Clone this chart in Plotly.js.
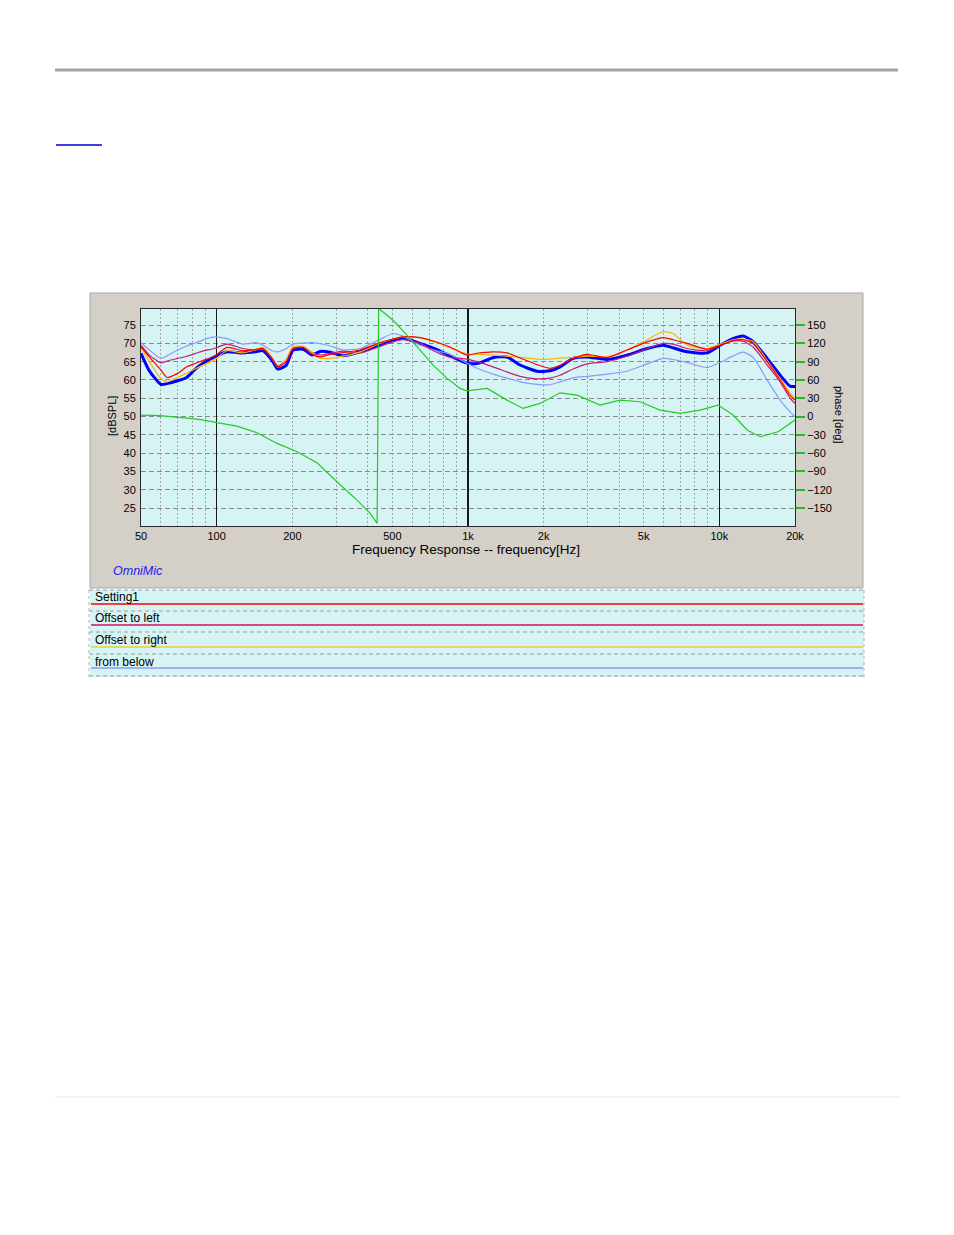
<!DOCTYPE html>
<html>
<head>
<meta charset="utf-8">
<script src="https://cdn.plot.ly/plotly-3.0.1.min.js"></script>
<style>
html,body{margin:0;padding:0;background:#fff;}
#chart{width:954px;height:1235px;}
</style>
</head>
<body>
<div id="chart"></div>
<script>
// ---------- data ----------
const freq = [50,54,60,63.5,70,76,82,88,98,110,127,143,153,166,175,189,201,221,240,258,283,318,372,447,503,551,645,753,848,991,1087,1258,1430,1611,1883,2121,2325,2619,2978,3576,4296,5160,5974,6545,7441,8938,10070,11345,12430,13624,15487,17451,19124,20000];

const measurement = [67.3,62.5,58.8,59.0,59.8,60.7,62.9,64.5,66.3,67.7,67.4,67.7,68.0,65.4,63.0,64.0,68.1,68.4,66.8,67.8,67.6,66.6,67.7,69.7,70.9,71.5,70.0,68.3,66.6,64.6,64.5,66.1,66.3,64.1,62.4,62.5,63.6,65.9,66.3,65.6,66.8,68.6,69.5,68.8,67.7,67.4,69.5,71.3,72.0,70.5,65.9,61.3,58.3,58.2];

const setting1 = [69.1,66.3,62.7,60.7,61.8,63.6,64.5,65.3,66.5,68.9,68.0,68.3,68.6,66.0,63.6,65.0,68.6,68.9,67.0,66.3,67.0,67.5,68.2,70.2,71.2,71.8,71.6,70.3,69.0,66.8,67.3,67.7,67.4,66.0,64.2,63.2,64.0,65.9,67.0,66.1,68.2,70.4,71.6,71.0,70.0,68.4,69.5,70.8,71.0,70.0,65.0,60.0,55.8,54.5];

const offsetLeft = [69.5,66.8,64.7,65.2,65.9,66.5,67.2,67.9,68.6,69.8,68.6,68.2,68.4,66.0,63.8,65.5,68.6,69.0,67.5,66.8,67.3,67.9,67.4,69.2,70.4,71.0,70.0,67.5,66.2,65.7,65.0,63.6,62.2,61.0,60.3,60.5,61.3,63.0,64.4,65.0,66.5,68.6,70.0,69.8,68.6,68.0,69.5,70.6,70.6,69.0,64.1,59.5,55.0,53.6];

const offsetRight = [68.9,65.0,60.4,59.5,60.7,61.9,63.0,64.0,65.5,68.0,67.4,68.3,68.9,66.0,63.6,65.5,69.1,69.1,67.5,65.9,65.9,66.5,67.7,70.0,71.2,71.8,71.5,70.3,68.8,67.1,67.0,66.8,66.5,66.2,65.7,65.7,66.0,66.2,66.5,66.4,68.2,71.0,73.2,72.7,69.5,68.6,69.8,71.0,71.2,70.5,65.4,60.4,56.5,55.0];

const fromBelow = [70.2,68.2,65.9,66.6,68.2,69.3,70.1,70.9,71.8,71.3,69.8,70.2,69.5,68.0,67.7,68.6,69.8,70.1,70.2,69.9,69.3,68.2,68.6,71.1,72.7,72.0,69.5,68.0,67.0,64.6,63.2,61.6,60.5,59.5,58.8,58.7,59.5,60.6,61.0,61.6,62.4,64.4,65.9,65.6,64.8,63.4,64.8,66.6,67.6,66.2,60.0,54.5,51.3,50.0];

const phaseFreq = [50,59.5,78.3,89,100.3,120.5,144.7,173.9,208.8,250.8,301,362,408,435,441,447,503,572,645,726,826,930,991,1191,1430,1656,1935,2325,2717,3354,4028,4838,5810,6979,8384,9890,11345,12896,14525,17146,20000];
const phaseDeg = [2.5,1.6,-3,-5.7,-10,-15.6,-26.5,-44,-57.7,-75.7,-106.8,-136.9,-158.7,-175,178,175.7,158,133.6,109,84.4,62.6,46.2,42.3,46.2,27,13.4,21.6,39,35.2,18.8,27,24.3,10.7,5.2,10.7,18.8,2.5,-22,-33,-24.9,-5.7];

const xTickVals = [50,100,200,500,1000,2000,5000,10000,20000];
const xTickText = ['50','100','200','500','1k','2k','5k','10k','20k'];
const xGridVals = [50,60,70,80,90,100,200,300,400,500,600,700,800,900,1000,2000,3000,4000,5000,6000,7000,8000,9000,10000,20000];
const decadeVals = [100,1000,10000];
const dbTicks = [25,30,35,40,45,50,55,60,65,70,75];
const phaseTicks = [-150,-120,-90,-60,-30,0,30,60,90,120,150];
const legendNames = ['Setting1','Offset to left','Offset to right','from below'];

// ---------- geometry helpers (page pixels -> paper) ----------
const W = 954, H = 1235, L = 141, R = 795, T = 309, B = 526;
const px = x => (x - L) / (R - L);
const py = y => (B - y) / (B - T);
const dbRange = [20.1, 79.4];
const phRange = [(dbRange[0] - 50) * 6, (dbRange[1] - 50) * 6];

const cRed = '#ff0000', cMag = '#c0207a', cOrg = '#ffb400', cLB = '#8a9aff', cBlue = '#0000ff', cGreen = '#22cc22';
const bgCyan = '#d6f4f4';

const baseLine = {shape: 'spline', smoothing: 0.6};
const traces = [
  {x: freq, y: measurement, name: 'Measurement', type: 'scatter', mode: 'lines', line: Object.assign({color: cBlue, width: 3}, baseLine), showlegend: false},
  {x: freq, y: fromBelow, name: legendNames[3], type: 'scatter', mode: 'lines', line: Object.assign({color: cLB, width: 1.2}, baseLine), showlegend: false},
  {x: freq, y: offsetLeft, name: legendNames[1], type: 'scatter', mode: 'lines', line: Object.assign({color: cMag, width: 1.2}, baseLine), showlegend: false},
  {x: freq, y: offsetRight, name: legendNames[2], type: 'scatter', mode: 'lines', line: Object.assign({color: cOrg, width: 1.2}, baseLine), showlegend: false},
  {x: freq, y: setting1, name: legendNames[0], type: 'scatter', mode: 'lines', line: Object.assign({color: cRed, width: 1.2}, baseLine), showlegend: false},
  {x: phaseFreq, y: phaseDeg, name: 'phase', type: 'scatter', mode: 'lines', yaxis: 'y2', line: {color: cGreen, width: 1.2}, showlegend: false},
  // invisible trace to activate decade-line axis
  {x: [50, 20000], y: [null, null], xaxis: 'x2', yaxis: 'y', type: 'scatter', mode: 'lines', showlegend: false, hoverinfo: 'skip'}
];

const shapes = [];
function hline(x0, x1, y, color, width, dash) {
  shapes.push({type: 'line', xref: 'paper', yref: 'paper', x0: px(x0), x1: px(x1), y0: py(y), y1: py(y), layer: 'below', line: {color: color, width: width, dash: dash || 'solid'}});
}
function vline(x, y0, y1, color, width, dash) {
  shapes.push({type: 'line', xref: 'paper', yref: 'paper', x0: px(x), x1: px(x), y0: py(y0), y1: py(y1), layer: 'below', line: {color: color, width: width, dash: dash || 'solid'}});
}
function rect(x0, y0, x1, y1, fill, lineColor) {
  shapes.push({type: 'rect', xref: 'paper', yref: 'paper', x0: px(x0), x1: px(x1), y0: py(y1), y1: py(y0), layer: 'below', fillcolor: fill, line: {color: lineColor || fill, width: lineColor ? 1 : 0}});
}
// page decorations
hline(55, 898, 70, '#a3a3a3', 3);
hline(56, 102, 145, '#0000cc', 1.5);
hline(55, 900, 1097, '#e6e6e6', 1);
// instrument panel
rect(90, 293, 863, 588, '#d4d0c8', '#a8a8a8');
rect(L, T, R, B, bgCyan);
// legend block
rect(90, 590, 864, 677, bgCyan);
const legendLineY = [604, 625, 647, 668];
const legendColors = [cRed, '#d0106a', '#f5c830', cLB];
const sepY = [611, 632, 654, 676];
for (let i = 0; i < 4; i++) {
  hline(91, 863, legendLineY[i], legendColors[i], 1.5);
  hline(89, 864, sepY[i], '#9a9a9a', 1, '4px,3px');
}
hline(89, 864, 590, '#9a9a9a', 1, '4px,3px');
vline(89, 590, 677, '#b0b0b0', 1, '3px,3px');
vline(864, 590, 677, '#b0b0b0', 1, '3px,3px');

const fontA = (size, color) => ({family: 'Arial, Liberation Sans, sans-serif', size: size, color: color || '#000'});
const annotations = [
  {text: '[dBSPL]', xref: 'paper', yref: 'paper', x: px(112), y: py(416), xanchor: 'center', yanchor: 'middle', textangle: -90, showarrow: false, font: fontA(11)},
  {text: 'phase [deg]', xref: 'paper', yref: 'paper', x: px(839), y: py(415), xanchor: 'center', yanchor: 'middle', textangle: 90, showarrow: false, font: fontA(11)},
  {text: 'Frequency Response -- frequency[Hz]', xref: 'paper', yref: 'paper', x: px(466), y: py(549), xanchor: 'center', yanchor: 'middle', showarrow: false, font: fontA(13.5)},
  {text: '<i>OmniMic</i>', xref: 'paper', yref: 'paper', x: px(111), y: py(571), xanchor: 'left', yanchor: 'middle', showarrow: false, font: fontA(12.5, '#2222ee')}
];
const legendTextY = [597, 618, 640, 662];
for (let i = 0; i < 4; i++) {
  annotations.push({text: legendNames[i], xref: 'paper', yref: 'paper', x: px(93), y: py(legendTextY[i]), xanchor: 'left', yanchor: 'middle', showarrow: false, font: fontA(12)});
}

const tickFont = fontA(11);
const layout = {
  width: W, height: H,
  margin: {l: L, r: W - R, t: T, b: H - B, pad: 0},
  paper_bgcolor: '#ffffff',
  plot_bgcolor: 'rgba(0,0,0,0)',
  showlegend: false,
  xaxis: {
    type: 'log', range: [Math.log10(50), Math.log10(20000)],
    tickmode: 'array', tickvals: xGridVals,
    ticktext: xGridVals.map(v => { const i = xTickVals.indexOf(v); return i >= 0 ? xTickText[i] : ''; }),
    ticks: '', tickfont: tickFont,
    showgrid: true, gridcolor: '#a4a4a4', gridwidth: 1, griddash: '2px,2px',
    showline: true, mirror: true, linecolor: '#2a2a2a', linewidth: 1,
    zeroline: false, fixedrange: true
  },
  xaxis2: {
    type: 'log', range: [Math.log10(50), Math.log10(20000)], overlaying: 'x',
    tickmode: 'array', tickvals: decadeVals, showticklabels: false, ticks: '',
    showgrid: true, gridcolor: '#1a1a1a', gridwidth: 1.3, showline: false, zeroline: false
  },
  yaxis: {
    range: dbRange, tickmode: 'array', tickvals: dbTicks, ticks: '', tickfont: tickFont,
    showgrid: true, gridcolor: '#8a8a8a', gridwidth: 1, griddash: '5px,3px',
    showline: true, mirror: true, linecolor: '#2a2a2a', linewidth: 1, zeroline: false,
    ticklabelstandoff: 2
  },
  yaxis2: {
    range: phRange, overlaying: 'y', side: 'right', tickmode: 'array', tickvals: phaseTicks,
    ticks: 'outside', ticklen: 9, tickwidth: 2, tickcolor: '#22bb22', tickfont: tickFont,
    showgrid: false, zeroline: false, showline: false
  },
  shapes: shapes,
  annotations: annotations
};

Plotly.newPlot('chart', traces, layout, {staticPlot: true, displayModeBar: false});
</script>
</body>
</html>
